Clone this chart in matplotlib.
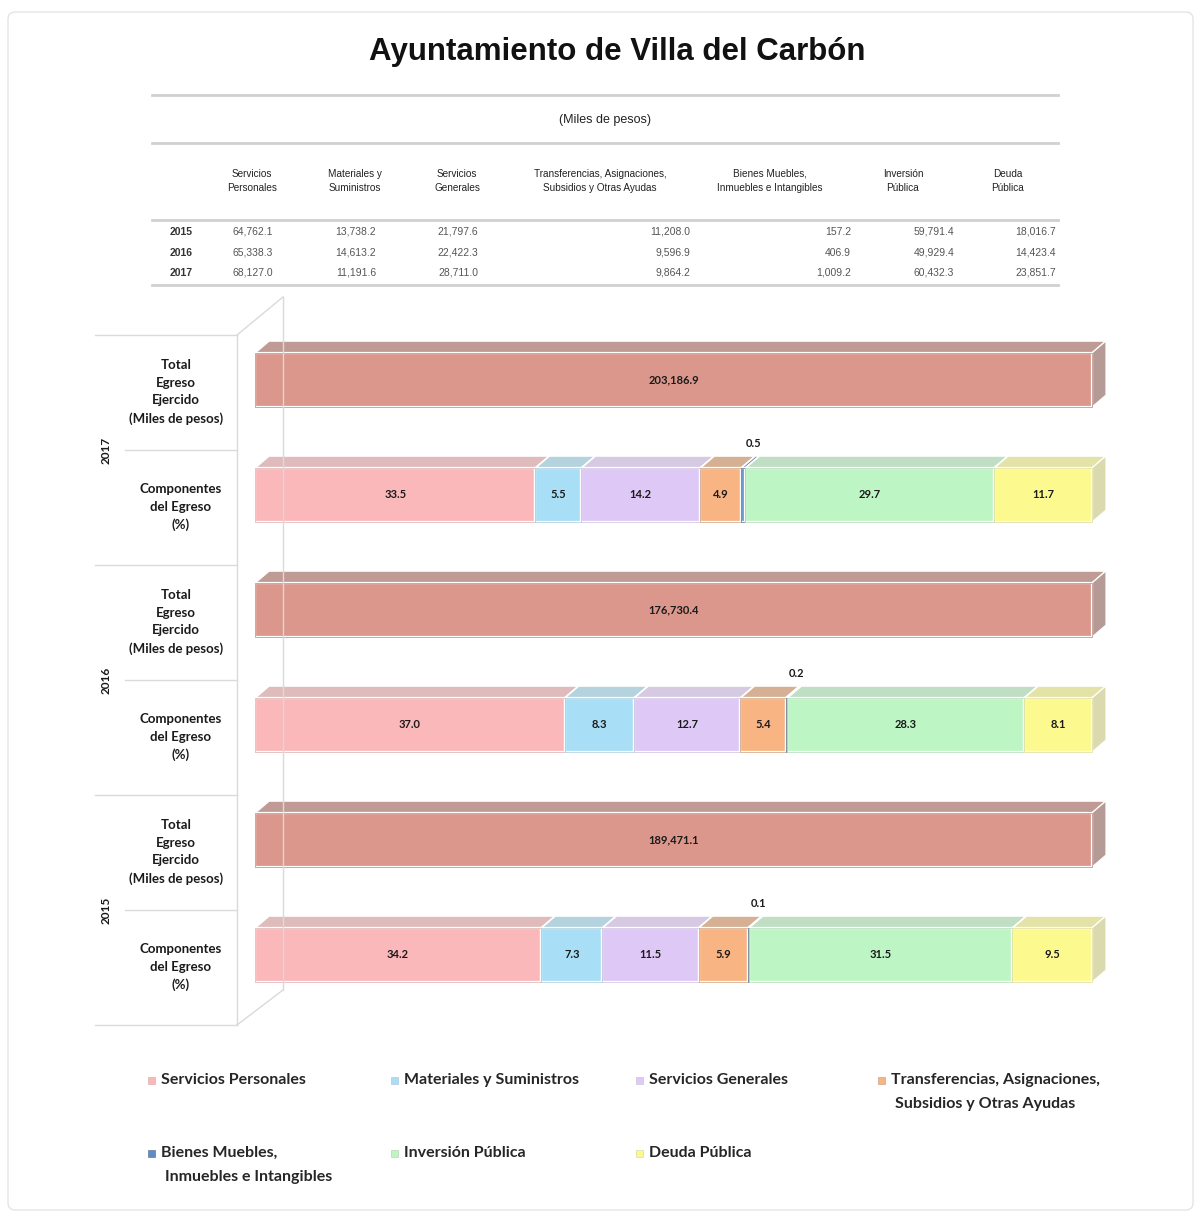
import matplotlib
matplotlib.use("Agg")
import matplotlib.pyplot as plt
from matplotlib.patches import Polygon, Rectangle, FancyBboxPatch
from matplotlib.lines import Line2D
import matplotlib.colors as mcolors

# data
years = ["2017", "2016", "2015"]
categories = ["Servicios Personales", "Materiales y Suministros", "Servicios Generales",
              "Transferencias, Asignaciones,\nSubsidios y Otras Ayudas",
              "Bienes Muebles,\nInmuebles e Intangibles", "Inversión Pública", "Deuda Pública"]
table_headers = ["Servicios\nPersonales", "Materiales y\nSuministros", "Servicios\nGenerales",
                 "Transferencias, Asignaciones,\nSubsidios y Otras Ayudas",
                 "Bienes Muebles,\nInmuebles e Intangibles", "Inversión\nPública", "Deuda\nPública"]
table_years = ["2015", "2016", "2017"]
table_rows = [
    ["64,762.1", "13,738.2", "21,797.6", "11,208.0", "157.2", "59,791.4", "18,016.7"],
    ["65,338.3", "14,613.2", "22,422.3", "9,596.9", "406.9", "49,929.4", "14,423.4"],
    ["68,127.0", "11,191.6", "28,711.0", "9,864.2", "1,009.2", "60,432.3", "23,851.7"],
]
totals = [203186.9, 176730.4, 189471.1]
pct_2017 = [33.5, 5.5, 14.2, 4.9, 0.5, 29.7, 11.7]
pct_2016 = [37.0, 8.3, 12.7, 5.4, 0.2, 28.3, 8.1]
pct_2015 = [34.2, 7.3, 11.5, 5.9, 0.1, 31.5, 9.5]
pcts = [pct_2017, pct_2016, pct_2015]

colors = ["#FBB8BA", "#A9DFF6", "#DEC8F6", "#F8B482", "#5E8DC6", "#BDF5C4", "#FCFA8E"]
total_color = "#DC978C"

W, H = 1200, 1213
fig = plt.figure(figsize=(W / 100, H / 100), dpi=100)
fig.patch.set_facecolor("white")

def px(x, y):
    return x / W, 1 - y / H

# card border
fig.patches.append(FancyBboxPatch(px(8, 1210), 1185 / W, 1198 / H, boxstyle="round,pad=0,rounding_size=0.006",
                                  transform=fig.transFigure, fc="none", ec="#E4E4E4", lw=1))

fig.text(*px(617, 52), "Ayuntamiento de Villa del Carbón", ha="center", va="center",
         fontsize=22.5, fontweight="bold", family="Liberation Sans", color="#111111")

# table
for yy in [95, 143, 220, 285]:
    fig.add_artist(Line2D([152 / W, 1058 / W], [1 - yy / H] * 2, color="#D0D0D0", lw=2))
fig.text(*px(605, 120), "(Miles de pesos)", ha="center", va="center", fontsize=9,
         family="Liberation Sans", color="#222222")
head_x = [252, 355, 457, 600, 770, 903, 1008]
val_right = [273, 376, 478, 690, 851, 954, 1056]
for hx, h in zip(head_x, table_headers):
    fig.text(*px(hx, 181), h, ha="center", va="center", fontsize=7.2, family="Liberation Sans",
             color="#222222", linespacing=1.5)
for r, (yr, row) in enumerate(zip(table_years, table_rows)):
    yy = 232 + r * 20.5
    fig.text(*px(170, yy), yr, ha="left", va="center", fontsize=7.5, fontweight="bold",
             family="Liberation Sans", color="#333333")
    for vx, v in zip(val_right, row):
        fig.text(*px(vx, yy), v, ha="right", va="center", fontsize=7.5,
                 family="Liberation Sans", color="#555555")

# wall decoration
wall = "#DADADA"
def fline(xs, ys, **kw):
    fig.add_artist(Line2D([x / W for x in xs], [1 - y / H for y in ys], color=wall, lw=1, **kw))
fline([237, 237], [335, 1025])
fline([237, 283], [335, 297])
fline([283, 283], [297, 990])
fline([237, 283], [1025, 990])
for i in range(7):
    yy = 335 + i * 115
    x0 = 95 if i % 2 == 0 else 125
    fline([x0, 237], [yy, yy])

# labels left
lab_font = dict(family="Lato", fontweight="bold", color="#1A1A1A")
for i, yr in enumerate(years):
    fig.text(*px(106, 450 + i * 230), yr, rotation=90, ha="center", va="center", fontsize=8.5, **lab_font)
    fig.text(*px(176, 392 + i * 230), "Total\nEgreso\nEjercido\n(Miles de pesos)", ha="center",
             va="center", fontsize=9.5, linespacing=1.55, **lab_font)
    fig.text(*px(181, 507 + i * 230), "Componentes\ndel Egreso\n(%)", ha="center",
             va="center", fontsize=9.5, linespacing=1.55, **lab_font)

# bars
ax = fig.add_axes([255 / W, 1 - 1025 / H, 837 / W, 690 / H])
ax.set_xlim(0, 100)
ax.set_ylim(6, 0)
ax.axis("off")

h = 0.47
off = 0.109
dx = 1.67
dy = 0.104

def shade(c, f):
    r, g, b = mcolors.to_rgb(c)
    grey = (r + g + b) / 3
    return (r * f + grey * (1 - f) * 0.92, g * f + grey * (1 - f) * 0.92, b * f + grey * (1 - f) * 0.92)

def bar3d(yc, lefts, widths, cols):
    ax.barh([yc] * len(widths), widths, left=lefts, height=h, color=cols,
            edgecolor="white", linewidth=1.6, zorder=3, clip_on=False)
    ax.barh([yc] * len(widths), widths, left=lefts, height=h, color="none",
            edgecolor=[shade(c, 0.55) for c in cols], linewidth=0.6, zorder=4, clip_on=False)
    yt = yc - h / 2
    yb = yc + h / 2
    for l, w, c in zip(lefts, widths, cols):
        ax.add_patch(Polygon([(l, yt), (l + w, yt), (l + w + dx, yt - dy), (l + dx, yt - dy)],
                             closed=True, fc=shade(c, 0.55), ec="white", lw=1.2, zorder=2,
                             clip_on=False))
    l, w, c = lefts[-1], widths[-1], cols[-1]
    ax.add_patch(Polygon([(l + w, yt), (l + w + dx, yt - dy), (l + w + dx, yb - dy), (l + w, yb)],
                         closed=True, fc=shade(c, 0.4), ec="white", lw=0.8, zorder=2, clip_on=False))

for i, yr in enumerate(years):
    yc_t = 2 * i + 0.5 - off
    bar3d(yc_t, [0], [100], [total_color])
    ax.text(50, yc_t, f"{totals[i]:,.1f}", ha="center", va="center", fontsize=8,
            zorder=5, **lab_font)
    yc_c = 2 * i + 1.5 - off
    vals = pcts[i]
    lefts = [sum(vals[:k]) for k in range(len(vals))]
    bar3d(yc_c, lefts, vals, colors)
    for k, (l, v) in enumerate(zip(lefts, vals)):
        if v < 1:
            ax.text(l + v / 2 + 1.2, yc_c - h / 2 - dy - 0.06, f"{v:.1f}", ha="center", va="bottom",
                    fontsize=8, zorder=5, **lab_font)
        else:
            ax.text(l + v / 2, yc_c, f"{v:.1f}", ha="center", va="center", fontsize=8,
                    zorder=5, **lab_font)

# legend
leg_pos = [(152, 1080), (395, 1080), (640, 1080), (882, 1080), (152, 1153), (395, 1153), (640, 1153)]
for (lx, ly), name, c in zip(leg_pos, categories, colors):
    fig.patches.append(Rectangle(px(lx - 4, ly + 4), 7 / W, 7 / H, transform=fig.transFigure,
                                 fc=c, ec=shade(c, 0.5), lw=0.6))
    lines = name.split("\n")
    fig.text(*px(lx + 9, ly), lines[0], ha="left", va="center", fontsize=11.5,
             family="Lato", fontweight="bold", color="#262626")
    if len(lines) > 1:
        fig.text(*px(lx + 13, ly + 24), lines[1], ha="left", va="center", fontsize=11.5,
                 family="Lato", fontweight="bold", color="#262626")

fig.savefig("out.png", dpi=100)
